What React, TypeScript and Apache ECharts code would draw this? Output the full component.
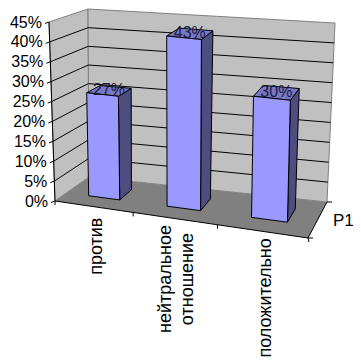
import React, { useEffect, useRef } from "react";
import * as echarts from "echarts";

const categories = ["против", "нейтральное\nотношение", "положительно"];
const values = [27, 43, 30];
const valueLabels = ["27%", "43%", "30%"];
const yTicks = [0, 5, 10, 15, 20, 25, 30, 35, 40, 45];
const seriesName = "P1";

type Pt = [number, number];
// screen corners of the 3D box: [u][v][w]
const A: Pt = [55, 201], B: Pt = [308, 238], C: Pt = [89, 177], D: Pt = [327, 202];
const E: Pt = [49, 22], F: Pt = [312, 54], G: Pt = [88, 9], H: Pt = [335, 23];
const lerp = (a: Pt, b: Pt, t: number): Pt => [a[0] + (b[0] - a[0]) * t, a[1] + (b[1] - a[1]) * t];
const warp = (u: number) => u - 0.11 * u * (1 - u);
const P = (u0: number, v: number, w: number): Pt => {
  const u = warp(u0);
  const bottom = lerp(lerp(A, B, u), lerp(C, D, u), w);
  const top = lerp(lerp(E, F, u), lerp(G, H, u), w);
  return lerp(bottom, top, v);
};

const GRID = { left: 50, top: 20, width: 260, height: 180 };
const FRONT = 0.34, BACK = 0.72, HALF = 0.0675;
const FONT = "Liberation Sans, Arial, sans-serif";

const poly = (points: Pt[], fill: string, stroke: string | null, z2 = 0) => ({
  type: "polygon", z2, silent: true,
  shape: { points },
  style: { fill, stroke: stroke ?? "none", lineWidth: 1 },
});
const seg = (a: Pt, b: Pt, stroke: string, z2 = 1) => ({
  type: "line", z2, silent: true,
  shape: { x1: a[0], y1: a[1], x2: b[0], y2: b[1] },
  style: { stroke, lineWidth: 1 },
});

const toUV = (api: any, cat: number, val: number) => {
  const c = api.coord([cat, val]);
  return [(c[0] - GRID.left) / GRID.width, (GRID.top + GRID.height - c[1]) / GRID.height];
};

export default function App() {
  const ref = useRef<HTMLDivElement>(null);
  useEffect(() => {
    document.body.style.margin = "0";
    document.body.style.background = "#fff";
    const chart = echarts.init(ref.current!, null, { renderer: "svg" });
    chart.setOption({
      animation: false,
      backgroundColor: "#ffffff",
      grid: { ...GRID },
      xAxis: { type: "category", data: categories, show: false },
      yAxis: { type: "value", min: 0, max: 45, interval: 5, show: false },
      series: [
        {
          type: "custom",
          name: "walls",
          silent: true,
          z: 1,
          coordinateSystem: "cartesian2d",
          clip: false,
          data: [0],
          renderItem: () => ({
            type: "group",
            children: [
              poly([P(0, 0, 0), P(1, 0, 0), P(1, 0, 1), P(0, 0, 1)], "#808080", null),
              poly([P(0, 0, 0), P(0, 0, 1), P(0, 1, 1), P(0, 1, 0)], "#c0c0c0", "#808080"),
              poly([P(0, 0, 1), P(1, 0, 1), P(1, 1, 1), P(0, 1, 1)], "#c0c0c0", "#808080"),
              seg(P(0, 0, 0), P(0, 1, 0), "#000000", 2),
              seg(P(0, 0, 0), P(1, 0, 0), "#000000", 2),
              seg(P(1, 0, 0), P(1, 0, 1), "#000000", 2),
              ...[1 / 3, 2 / 3].map((u) => {
                const a = P(u, 0, 0);
                return seg(a, [a[0], a[1] + 4], "#000000", 2);
              }),
              ...[0, 1].map((u) => {
                const a = P(u, 0, 0);
                return seg(a, [a[0] + (u ? 1 : 0), a[1] + 4], "#000000", 2);
              }),
              ...[0, 1].map((w) => {
                const a = P(1, 0, w);
                return seg(a, [a[0] + 5, a[1]], "#000000", 2);
              }),
              {
                type: "text", silent: true, x: 333, y: 220,
                style: { text: seriesName, font: `17px ${FONT}`, fill: "#000", align: "left", verticalAlign: "middle" },
              },
            ],
          }),
        },
        {
          type: "custom",
          name: "ticks",
          silent: true,
          z: 2,
          coordinateSystem: "cartesian2d",
          clip: false,
          data: yTicks.map((t) => [0, t]),
          encode: { x: 0, y: 1 },
          renderItem: (params: any, api: any) => {
            const t = api.value(1);
            const v = toUV(api, 0, t)[1];
            const front = P(0, v, 0), back = P(0, v, 1), right = P(1, v, 1);
            const kids: any[] = [
              seg([front[0] - 4, front[1] + 1.5], front, "#000000"),
              {
                type: "text", silent: true, x: front[0] - 7, y: front[1],
                style: { text: `${t}%`, font: `16px ${FONT}`, fill: "#000", align: "right", verticalAlign: "middle" },
              },
            ];
            if (t > 0 && t < 45) {
              kids.push(seg(front, back, "#000000"), seg(back, right, "#000000"));
            }
            return { type: "group", children: kids };
          },
        },
        {
          type: "custom",
          name: "bars",
          silent: true,
          z: 3,
          coordinateSystem: "cartesian2d",
          clip: false,
          data: values.map((v, i) => [i, v]),
          encode: { x: 0, y: 1 },
          renderItem: (params: any, api: any) => {
            const [u, v0] = toUV(api, api.value(0), api.value(1));
            // small perspective correction of the height along the width of the box
            const v = v0 * (0.965 + 0.07 * Math.min(u, 0.6));
            const l = u - HALF, r = u + HALF;
            const f0l = P(l, 0, FRONT), f0r = P(r, 0, FRONT), b0r = P(r, 0, BACK);
            const f1l = P(l, v, FRONT), f1r = P(r, v, FRONT), b1r = P(r, v, BACK), b1l = P(l, v, BACK);
            return {
              type: "group",
              children: [
                poly([f1r, b1r, b0r, f0r], "#4d4d80", "#000000"),
                poly([f1l, f1r, b1r, b1l], "#7878c8", "#000000"),
                poly([f0l, f0r, f1r, f1l], "#9999ff", "#000000"),
                {
                  type: "text", silent: true, z2: 5,
                  x: (f1l[0] + b1r[0]) / 2, y: (f1l[1] + b1r[1]) / 2 - 1,
                  style: {
                    text: valueLabels[params.dataIndex], font: `16px ${FONT}`, fill: "#1a1a3a",
                    align: "center", verticalAlign: "middle",
                  },
                },
              ],
            };
          },
        },
        {
          type: "custom",
          name: "categories",
          silent: true,
          z: 4,
          coordinateSystem: "cartesian2d",
          clip: false,
          data: categories.map((_, i) => [i, 0]),
          encode: { x: 0, y: 1 },
          renderItem: (params: any, api: any) => {
            const i = params.dataIndex;
            const u = toUV(api, api.value(0), 0)[0];
            const base = P(u, 0, 0);
            const two = categories[i].includes("\n");
            return {
              type: "text", silent: true,
              x: base[0] + (two ? 1 : 3),
              y: two ? 279 : base[1] + (i === 0 ? 11 : 7),
              rotation: Math.PI / 2,
              style: {
                text: categories[i], font: `18px ${FONT}`, fill: "#000", lineHeight: 22,
                align: two ? "center" : "right", verticalAlign: "middle",
              },
            };
          },
        },
      ],
    });
    return () => chart.dispose();
  }, []);
  return <div ref={ref} style={{ width: 361, height: 363 }} />;
}
